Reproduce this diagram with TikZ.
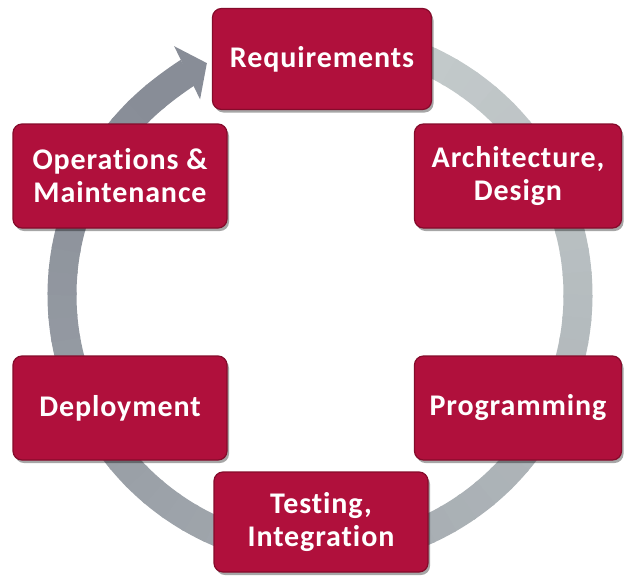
\documentclass[tikz,border=0pt]{standalone}
\usepackage{fontspec}
\setmainfont{Carlito}[Ligatures={NoCommon}, LetterSpace=3]
\usetikzlibrary{arrows.meta,shadows}
\definecolor{boxred}{HTML}{B0103C}
\definecolor{boxedge}{HTML}{850B2B}
\definecolor{ringlight}{HTML}{C9D0D0}
\definecolor{ringdark}{HTML}{888D97}
\begin{document}
\begin{tikzpicture}[x=1pt,y=-1pt,
  stagebox/.style={draw=boxedge, line width=1.2pt, fill=boxred, rounded corners=9pt,
    text=white, font=\bfseries\fontsize{30}{33}\selectfont, align=center,
    minimum width=214pt, minimum height=104pt, inner sep=0pt,
    drop shadow={shadow xshift=2pt, shadow yshift=-3pt, opacity=0.35, fill=black}},
  ring/.style={line width=29pt, line cap=butt}]
\useasboundingbox (0,0) rectangle (624,576);
\fill[white] (0,0) rectangle (624,576);
\begin{scope}[shift={(320,295)}]
  \foreach \a in {-100,-95,...,225} {
    \pgfmathtruncatemacro{\t}{(\a+100)/325*100}
    \draw[ring, draw=ringdark!\t!ringlight] (\a:258) arc[start angle=\a, end angle=\a+5.6, radius=258];
  }
  \draw[ring, draw=ringdark, -{Triangle[width=58pt,length=22pt]}] (230:258) arc[start angle=230, end angle=244, radius=258];
\end{scope}
\node[stagebox, minimum width=219pt, minimum height=101pt] (req) at (322,59) {Requirements};
\node[stagebox, minimum width=207pt] (arch) at (518,176) {Architecture,\\Design};
\node[stagebox, minimum width=207pt] (prog) at (518,408) {Programming};
\node[stagebox, minimum height=100pt] (test) at (321,522) {Testing,\\Integration};
\node[stagebox] (dep) at (120,408) {Deployment};
\node[stagebox] (ops) at (120,176) {Operations \&\\Maintenance};
\end{tikzpicture}
\end{document}
